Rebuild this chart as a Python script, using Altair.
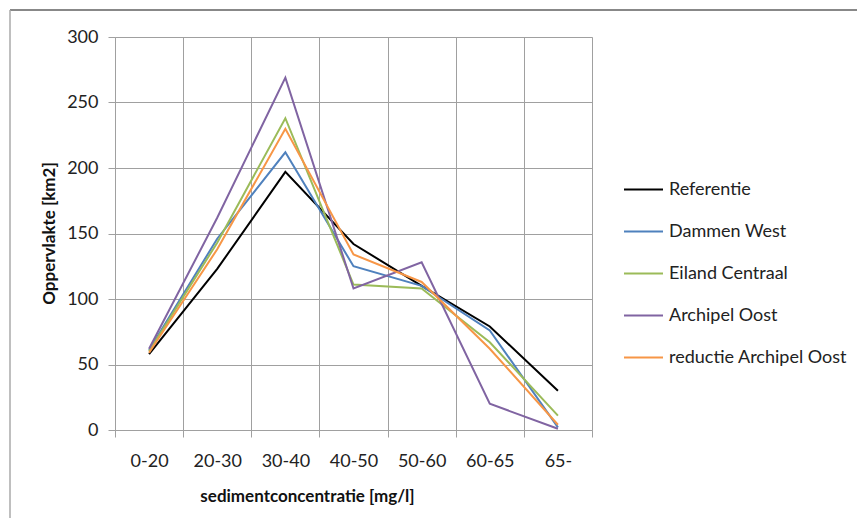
import altair as alt
import pandas as pd

categories = ["0-20", "20-30", "30-40", "40-50", "50-60", "60-65", "65-"]
series_names = ["Referentie", "Dammen West", "Eiland Centraal", "Archipel Oost", "reductie Archipel Oost"]
referentie = [58, 123, 197, 142, 110, 79, 30]
dammen_west = [61, 146, 212, 125, 110, 76, 2]
eiland_centraal = [60, 143, 238, 111, 108, 67, 11]
archipel_oost = [62, 162, 269, 108, 128, 20, 1]
reductie_archipel_oost = [59, 138, 230, 134, 113, 62, 4]
colors = ["#000000", "#4F81BD", "#9BBB59", "#8064A2", "#F79646"]

series_values = [referentie, dammen_west, eiland_centraal, archipel_oost, reductie_archipel_oost]
rows = []
for name, vals in zip(series_names, series_values):
    for cat, v in zip(categories, vals):
        rows.append({"klasse": cat, "reeks": name, "waarde": v})
df = pd.DataFrame(rows)

FONT = "Lato"
GRID = "#a0a0a0"

lines = alt.Chart(df).mark_line(strokeWidth=2).encode(
    x=alt.X("klasse:N", sort=categories,
            scale=alt.Scale(type="band", paddingInner=0, paddingOuter=0),
            axis=alt.Axis(title="sedimentconcentratie [mg/l]", labelAngle=0, tickBand="extent",
                          grid=True, gridColor=GRID, domainColor=GRID, tickColor=GRID, tickSize=7,
                          labelPadding=15, labelFontSize=18, labelColor="#222", labelFont=FONT,
                          titleFont=FONT, titleFontSize=17, titleFontWeight="bold", titleColor="#111",
                          titleX=192, titleY=71, titleBaseline="alphabetic", titleAnchor=None)),
    y=alt.Y("waarde:Q", scale=alt.Scale(domain=[0, 300], nice=False),
            axis=alt.Axis(title="Oppervlakte [km2]", values=[0, 50, 100, 150, 200, 250, 300],
                          grid=True, gridColor=GRID, domainColor=GRID, tickColor=GRID, tickSize=7,
                          labelPadding=10, labelFontSize=18, labelColor="#222", labelFont=FONT,
                          titleFont=FONT, titleFontSize=17, titleFontWeight="bold", titleColor="#111",
                          titleX=-66, titleY=196, titleAngle=270, titleAlign="center",
                          titleBaseline="middle")),
    color=alt.Color("reeks:N", sort=series_names,
                    scale=alt.Scale(domain=series_names, range=colors),
                    legend=alt.Legend(title=None, orient="none", legendX=508, legendY=132,
                                      symbolType="stroke", symbolSize=1521, symbolStrokeWidth=2,
                                      labelFont=FONT, labelFontSize=18, labelColor="#222",
                                      labelOffset=5, rowPadding=12, labelLimit=300)),
    order=alt.Order("reeks:N"),
)

frame = alt.Chart(alt.Data(values=[{}]))
frame_top = frame.mark_rule(color="#888888", strokeWidth=2).encode(
    x=alt.value(-105), x2=alt.value(760), y=alt.value(-27))
frame_left = frame.mark_rule(color="#aaaaaa", strokeWidth=1.5).encode(
    x=alt.value(-105), y=alt.value(-27), y2=alt.value(500))

chart = alt.layer(frame_top, frame_left, lines).properties(
    width=477, height=393,
    autosize=alt.AutoSizeParams(type="none"),
    padding={"left": 107, "top": 29, "right": 265, "bottom": 88},
).configure_view(stroke=GRID, strokeWidth=1).configure(background="white")

chart.save("out.html", embed_options={"renderer": "svg", "actions": False})
